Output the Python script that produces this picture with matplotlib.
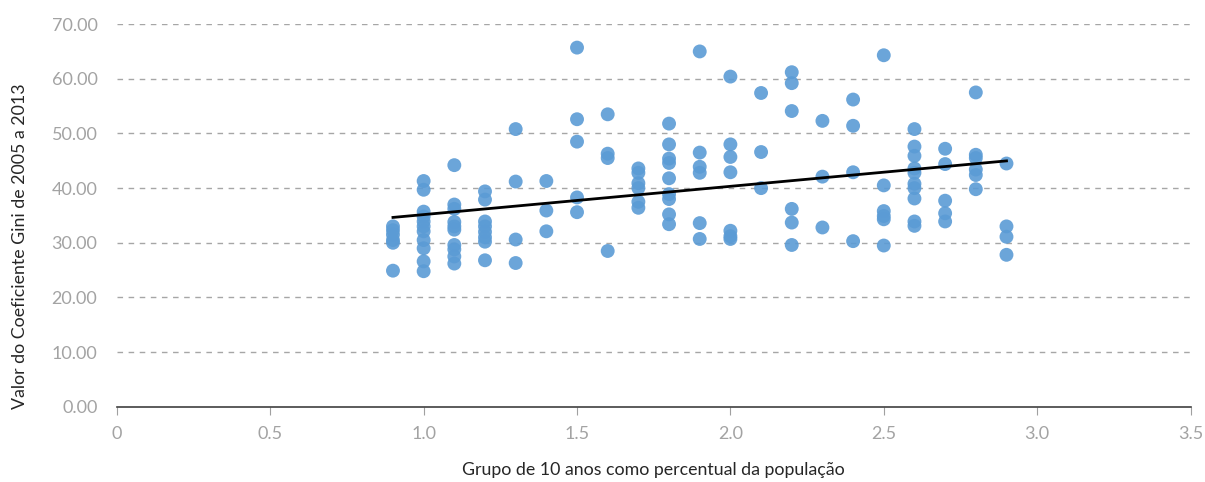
import numpy as np
import matplotlib
matplotlib.use('Agg')
import matplotlib.pyplot as plt

plt.rcParams['font.family'] = ['Lato', 'DejaVu Sans']

# Dados: grupo de 10 anos (% da população) e coeficiente de Gini
grupos = [0.9, 1.0, 1.1, 1.2, 1.3, 1.4, 1.5, 1.6, 1.7, 1.8,
          1.9, 2.0, 2.1, 2.2, 2.3, 2.4, 2.5, 2.6, 2.7, 2.8, 2.9]
gini = [
    [33.0, 32.3, 31.5, 30.5, 30.0, 24.9],
    [41.3, 39.7, 35.7, 34.8, 33.9, 33.0, 32.1, 30.5, 29.0, 26.6, 24.8],
    [44.2, 37.0, 36.2, 33.8, 33.0, 32.4, 29.6, 28.8, 27.5, 26.2],
    [39.4, 37.9, 33.9, 33.0, 32.0, 31.0, 30.2, 26.8],
    [50.8, 41.2, 30.6, 26.3],
    [41.3, 35.9, 32.1],
    [65.7, 52.6, 48.5, 38.3, 35.6],
    [53.5, 46.3, 45.5, 28.5],
    [43.6, 42.8, 40.9, 40.0, 37.5, 36.4],
    [51.8, 48.0, 45.4, 44.6, 41.8, 38.9, 38.0, 35.2, 33.4],
    [65.0, 46.5, 43.9, 42.8, 33.6, 30.7],
    [60.4, 48.0, 45.7, 42.9, 32.2, 31.2, 30.7],
    [57.4, 46.6, 40.0],
    [61.2, 59.2, 54.1, 36.2, 33.7, 29.6],
    [52.3, 42.1, 32.8],
    [56.2, 51.4, 42.9, 30.3],
    [64.3, 40.5, 35.8, 34.9, 34.3, 29.5],
    [50.8, 47.6, 45.9, 43.6, 42.8, 40.8, 40.0, 38.1, 33.9, 33.1],
    [47.2, 44.4, 37.7, 35.4, 33.9],
    [57.5, 46.1, 45.5, 43.4, 42.4, 39.8],
    [44.5, 33.0, 31.1, 27.8],
]
yticks = [0, 10, 20, 30, 40, 50, 60, 70]
xticks = [0, 0.5, 1.0, 1.5, 2.0, 2.5, 3.0, 3.5]
xtick_labels = ['0', '0.5', '1.0', '1.5', '2.0', '2.5', '3.0', '3.5']

x = np.concatenate([[g] * len(v) for g, v in zip(grupos, gini)])
y = np.concatenate(gini)

# Linha de tendência linear
coef = np.polyfit(x, y, 1)
xl = np.array([x.min(), x.max()])

fig = plt.figure(figsize=(12.05, 4.82), dpi=100)
ax = fig.add_axes([0.097, 0.156, 0.891, 0.794])

for t in yticks[1:]:
    ax.axhline(t, color='#a6a6a6', lw=1, ls=(0, (4, 4)), zorder=0)

ax.scatter(x, y, s=100, color='#5b9bd5', alpha=0.9, edgecolors='none', zorder=2)
ax.plot(xl, np.polyval(coef, xl), color='black', lw=2, zorder=3)

ax.set_xlim(0, 3.5)
ax.set_ylim(0, 70)
ax.set_yticks(yticks)
ax.set_yticklabels([f'{t:.2f}' for t in yticks])
ax.set_xticks(xticks)
ax.set_xticklabels(xtick_labels)

for s in ['top', 'right', 'left']:
    ax.spines[s].set_visible(False)
ax.spines['bottom'].set_color('#404040')
ax.spines['bottom'].set_linewidth(1.2)

ax.tick_params(axis='y', length=0, pad=14, labelsize=13, labelcolor='#a3a3a3')
ax.tick_params(axis='x', length=6, color='#a0a0a0', pad=8, labelsize=13, labelcolor='#a3a3a3')

ax.set_xlabel('Grupo de 10 anos como percentual da população', fontsize=12.8,
              color='#262626', labelpad=14)
ax.set_ylabel('Valor do Coeficiente Gini de 2005 a 2013', fontsize=12.8,
              color='#262626', labelpad=16)
ax.yaxis.set_label_coords(-0.083, 0.42)

fig.savefig('out.png', dpi=100)
